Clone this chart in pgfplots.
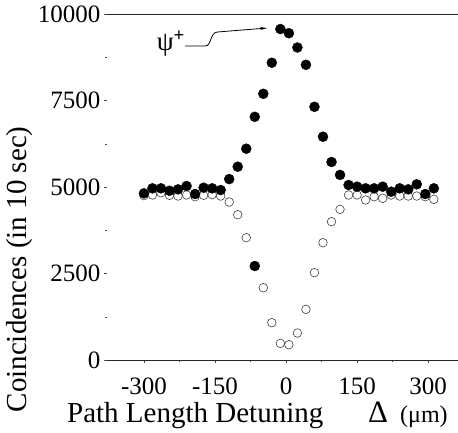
\documentclass[border=0pt]{standalone}
\usepackage{fontspec}
\setmainfont{Liberation Serif}
\usepackage{pgfplots}
\pgfplotsset{compat=1.18}
\usetikzlibrary{arrows.meta}
\begin{document}
\begin{tikzpicture}
\begin{axis}[
  scale only axis, width=351pt, height=346pt,
  xmin=-378, xmax=363, ymin=0, ymax=10000,
  separate axis lines,
  y axis line style={draw=none},
  x axis line style={line width=0.7pt, black!85},
  xtick={-300,-150,0,150,300},
  xticklabels={-300,-150,0,150,300},
  minor xtick={-225,-75,75,225},
  ytick={0,2500,5000,7500,10000},
  yticklabels={0,2500,5000,7500,10000},
  minor ytick={1250,3750,6250,8750},
  scaled y ticks=false,
  xtick pos=bottom, ytick pos=left,
  tick align=outside,
  major tick length=3pt, minor tick length=2pt,
  tick style={black!70, line width=0.5pt},
  ticklabel style={font=\fontsize{25}{28}\selectfont},
  xticklabel style={anchor=base, inner sep=1pt, yshift=-31pt},
  ylabel={Coincidences (in 10 sec)},
  ylabel style={at={(axis description cs:-0.248,0.262)}, anchor=center, font=\fontsize{29}{34}\selectfont},
  xlabel={Path Length Detuning},
  xlabel style={at={(axis description cs:-0.114,-0.18)}, anchor=base west, inner sep=0pt, font=\fontsize{29}{32}\selectfont},
  clip=false,
]
\addplot[only marks, mark=o, mark size=4.3pt, mark options={draw=black!75, fill=white, line width=0.6pt}] coordinates {
(-300,4750) (-282,4769) (-264,4835) (-246,4760) (-228,4740) (-210,4769) (-192,4720) (-174,4760) (-156,4780) (-138,4740)
(-120,4566) (-102,4200) (-84,3535) (-48,2090) (-30,1079) (-12,482) (6,443) (24,780) (42,1465) (60,2524)
(78,3391) (96,3998) (114,4355) (132,4769) (150,4769) (168,4624) (186,4720) (204,4673) (222,4769) (240,4740)
(258,4740) (276,4740) (294,4720) (312,4644)
};
\addplot[only marks, mark=*, mark size=5pt, mark options={draw=black, fill=black}] coordinates {
(-300,4817) (-282,4962) (-264,4962) (-246,4893) (-228,4933) (-210,5029) (-192,4798) (-174,4980) (-156,4962) (-138,4913)
(-120,5230) (-102,5587) (-84,6107) (-66,7029) (-48,7694) (-30,8592) (-12,9566) (6,9445) (24,9032) (42,8532)
(60,7318) (78,6454) (96,5723) (114,5350) (132,5058) (150,5010) (168,4962) (186,4962) (204,5010) (222,4865)
(240,4962) (258,4933) (276,5078) (294,4798) (312,4962)
};
\addplot[only marks, mark=*, mark size=5pt, mark options={draw=black, fill=black}] coordinates {(-66,2717)};
\node[font=\fontsize{27}{30}\selectfont, anchor=center] at (axis cs:-243,9150) {ψ\textsuperscript{\textbf{+}}};
\draw[line width=0.8pt, -{Stealth[length=7pt, width=3pt]}] (axis cs:-213,9075) -- (axis cs:-171,9075)
  .. controls (axis cs:-156,9075) and (axis cs:-162,9450) .. (axis cs:-145,9480) -- (axis cs:-40,9595);
\node[font=\fontsize{31}{32}\selectfont, anchor=base west, inner sep=0pt] at (axis description cs:0.7436,-0.18) {Δ};
\node[font=\fontsize{24}{26}\selectfont, anchor=base west, inner sep=0pt] at (axis description cs:0.8348,-0.18) {(μm)};
\coordinate (bbA) at (axis description cs:-0.3048,-0.2081);
\coordinate (bbB) at (axis description cs:1.0,1.0405);
\end{axis}
\pgfresetboundingbox
\useasboundingbox (bbA) rectangle (bbB);
\end{tikzpicture}
\end{document}
